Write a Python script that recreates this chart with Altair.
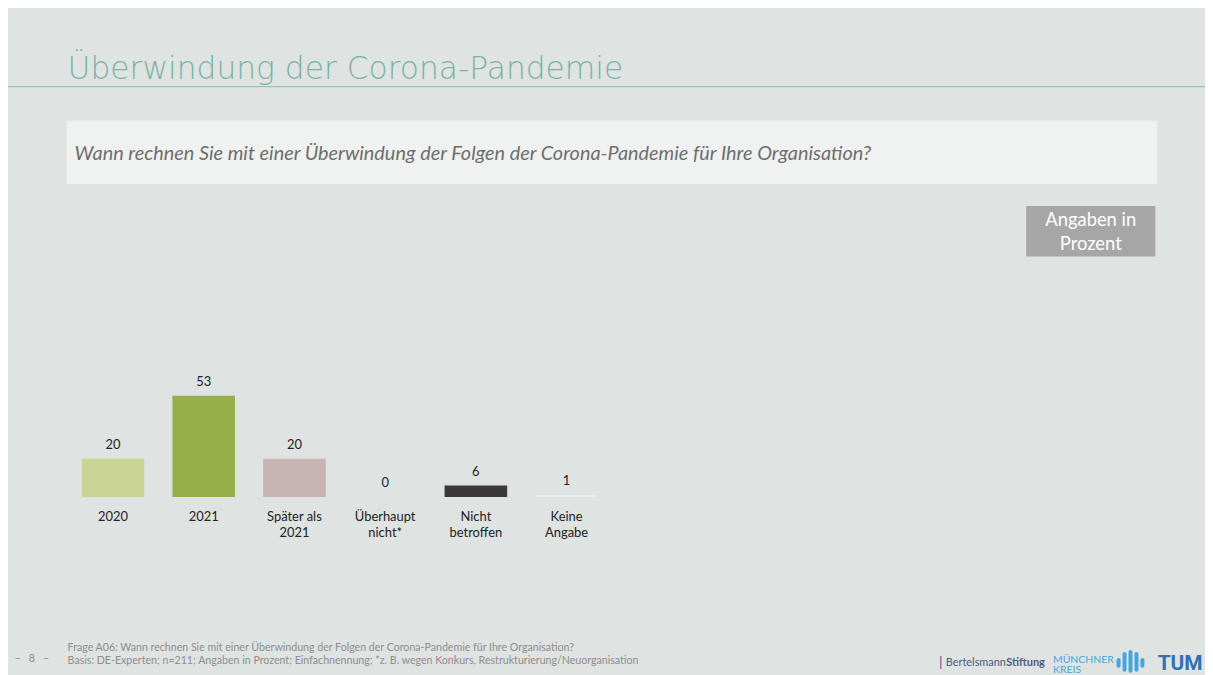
import altair as alt
import pandas as pd

# ---------------- data ----------------
categories = ["2020", "2021", "Später als\n2021", "Überhaupt\nnicht*", "Nicht\nbetroffen", "Keine\nAngabe"]
values = [20, 53, 20, 0, 6, 1]
value_labels = ["20", "53", "20", "0", "6", "1"]
bar_colors = ["#c9d393", "#96b049", "#c9b4b4", "#c9b4b4", "#3b3938", "#e9eceb"]

title_text = "Überwindung der Corona-Pandemie"
question_text = "Wann rechnen Sie mit einer Überwindung der Folgen der Corona-Pandemie für Ihre Organisation?"
unit_text = "Angaben in\nProzent"
footer_text = ("Frage A06: Wann rechnen Sie mit einer Überwindung der Folgen der Corona-Pandemie für Ihre Organisation?\n"
               "Basis: DE-Experten; n=211; Angaben in Prozent; Einfachnennung; *z. B. wegen Konkurs, Restrukturierung/Neuorganisation")
page_text = "–\u00a0\u00a0\u00a08\u00a0\u00a0\u00a0–"

df = pd.DataFrame({"cat": categories, "value": values, "label": value_labels, "color": bar_colors})
one = pd.DataFrame({"k": [0]})

W, H = 1205, 667
FONT = "Lato"
BG = "#dfe3e1"

xenc = alt.X("cat:N", sort=categories, axis=None,
             scale=alt.Scale(range=[60, 608], paddingInner=0.31, paddingOuter=0.155))
yenc = alt.Y("value:Q", axis=None, scale=alt.Scale(domain=[0, 53], range=[490, 388]))

bars = alt.Chart(df).mark_bar().encode(
    x=xenc, y=yenc, y2=alt.datum(0),
    color=alt.Color("color:N", scale=None),
)
vlabels = alt.Chart(df).mark_text(font=FONT, fontSize=13, color="#222222", baseline="bottom", dy=-7).encode(
    x=xenc, y=yenc, text="label:N"
)
clabels = alt.Chart(df).mark_text(font=FONT, fontSize=13, color="#222222", baseline="top",
                                  lineBreak="\n", lineHeight=16).encode(
    x=xenc, y=alt.value(504), text="cat:N"
)

def rect(x1, x2, y1, y2, color, **kw):
    return alt.Chart(one).mark_rect(color=color, **kw).encode(
        x=alt.value(x1), x2=alt.value(x2), y=alt.value(y1), y2=alt.value(y2))

def txt(s, x, y, **kw):
    return alt.Chart(one).mark_text(**kw).encode(x=alt.value(x), y=alt.value(y), text=alt.value(s))

title = txt(title_text, 60, 69, font="DejaVu Sans", fontWeight=200, fontSize=31.5, color="#7cb3a6",
            align="left", baseline="alphabetic")
title_rule = alt.Chart(one).mark_rule(color="#8ab8ac", strokeWidth=1).encode(
    x=alt.value(0), x2=alt.value(W), y=alt.value(77))

qbox = rect(59, 1157, 111, 175, "#f0f2f1")
qtext = txt(question_text, 67, 145, font=FONT, fontStyle="italic", fontSize=20, color="#6e6e6e",
            align="left", baseline="middle")

ubox = rect(1025, 1155, 197, 248, "#a6a6a6")
utext = txt(unit_text, 1090, 202, font=FONT, fontSize=18.5, color="#ffffff", align="center",
            baseline="top", lineBreak="\n", lineHeight=24)

footer = txt(footer_text, 60, 637, font=FONT, fontSize=10.7, color="#8e8e8e", align="left",
             baseline="top", lineBreak="\n", lineHeight=13)
pagenum = txt(page_text, 24, 653, font=FONT, fontSize=10.7, color="#8e8e8e", align="center", baseline="middle")

logo_bar = txt("|", 939, 657, font=FONT, fontSize=14, color="#4d5b7c", align="center", baseline="middle")
logo_b1 = txt("Bertelsmann", 944, 657, font=FONT, fontSize=11, color="#4d5b7c", align="left", baseline="middle")
logo_b2 = txt("Stiftung", 1005, 657, font=FONT, fontSize=11, fontWeight="bold", color="#4d5b7c",
              align="left", baseline="middle")
logo_mk = txt("MÜNCHNER\nKREIS", 1052, 649, font=FONT, fontSize=10.5, color="#45a6de", align="left",
              baseline="top", lineBreak="\n", lineHeight=10)
icon = [rect(1116, 1120, 652, 662, "#45a6de", cornerRadius=2),
        rect(1122, 1126, 646, 666, "#45a6de", cornerRadius=2),
        rect(1128, 1132, 644, 667, "#45a6de", cornerRadius=2),
        rect(1134, 1138, 646, 666, "#45a6de", cornerRadius=2),
        rect(1140, 1144, 652, 662, "#45a6de", cornerRadius=2)]
logo_tum = txt("TUM", 1180, 664, font="Roboto", fontSize=21, fontWeight="bold", color="#3070b3",
               align="center", baseline="alphabetic")

chart = alt.layer(
    title_rule, title, qbox, qtext, ubox, utext,
    bars, vlabels, clabels,
    footer, pagenum, logo_bar, logo_b1, logo_b2, logo_mk, *icon, logo_tum,
).properties(
    width=W, height=H, autosize="none", padding=0, background=BG,
).configure_view(strokeWidth=0)

chart.save("out.html", embed_options={"renderer": "svg", "actions": False})
